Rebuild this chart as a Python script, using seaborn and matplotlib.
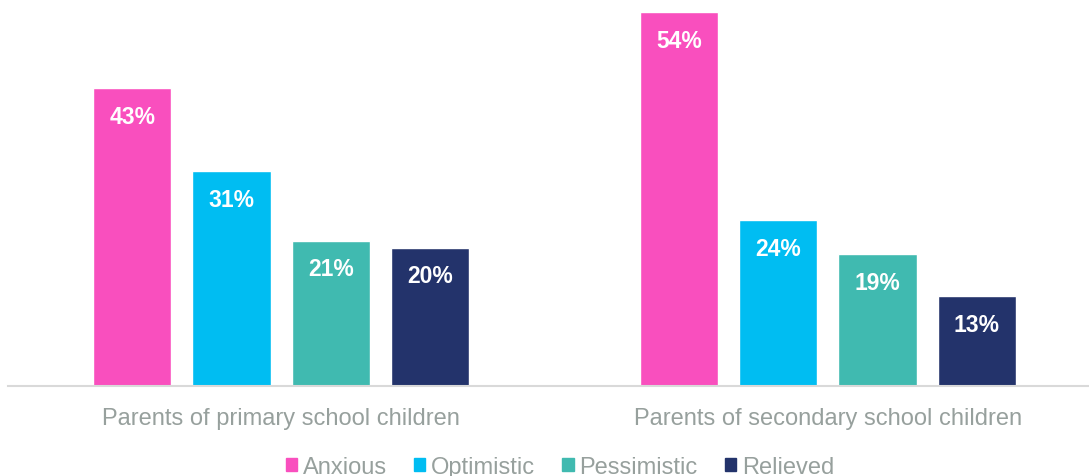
import numpy as np
import pandas as pd
import matplotlib.pyplot as plt
import seaborn as sns

groups = ["Parents of primary school children", "Parents of secondary school children"]
feelings = ["Anxious", "Optimistic", "Pessimistic", "Relieved"]
primary = [43, 31, 21, 20]
secondary = [54, 24, 19, 13]
colors = ["#F94FBE", "#00BDF2", "#40BAB0", "#23336B"]

df = pd.DataFrame({
    "group": [groups[0]] * 4 + [groups[1]] * 4,
    "feeling": feelings * 2,
    "value": primary + secondary,
})

sns.set_style("white")
plt.rcParams['font.family'] = ['Liberation Sans', 'DejaVu Sans']

fig = plt.figure(figsize=(10.89, 4.77), dpi=100)
ax = fig.add_axes([8 / 1089, 90 / 477, 1 - 8 / 1089, 387 / 477])

sns.barplot(data=df, x="group", y="value", hue="feeling", hue_order=feelings,
            palette=colors, width=0.727, gap=0.21, saturation=1, ax=ax,
            legend=False)

for cont in ax.containers:
    for bar in cont:
        h = bar.get_height()
        ax.text(bar.get_x() + bar.get_width() / 2, h - 4.1, f"{h:.0f}%",
                ha="center", va="center", color="white", fontsize=16.5,
                fontweight="bold")

ax.set_xlim(-0.5, 1.478)
ax.set_ylim(0, 55.9)
ax.set_xlabel("")
ax.set_ylabel("")
ax.set_yticks([])
ax.tick_params(axis="x", length=0, pad=15, labelsize=17, labelcolor="#97A09D")
for s in ["top", "left", "right"]:
    ax.spines[s].set_visible(False)
ax.spines["bottom"].set_color("#D9D9D9")
ax.spines["bottom"].set_linewidth(1.5)

handles = [plt.Rectangle((0, 0), 1, 1, color=c) for c in colors]
fig.legend(handles, feelings, loc="center", bbox_to_anchor=(560 / 1089, 1 - 468 / 477),
           ncol=4, frameon=False, fontsize=17, labelcolor="#97A09D",
           handlelength=0.47, handleheight=0.47, handletextpad=0.25, columnspacing=1.15)

fig.savefig("out.png", dpi=100)
